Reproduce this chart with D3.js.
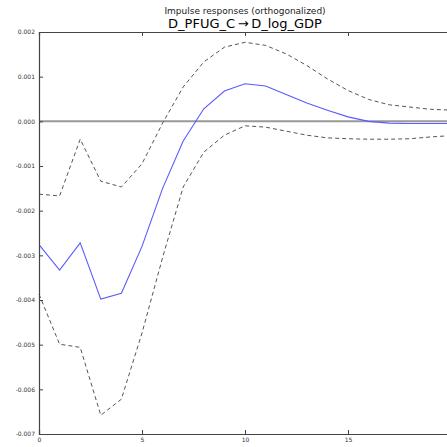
<!DOCTYPE html>
<html>
<head>
<meta charset="utf-8">
<script src="https://cdn.jsdelivr.net/npm/d3@7"></script>
<style>
  body { margin: 0; background: #fff; }
  text { font-family: "DejaVu Sans", sans-serif; }
</style>
</head>
<body>
<svg id="chart" width="447" height="447"></svg>
<script>
// impulse response periods and values
var periods = d3.range(0, 21);
var irf = [-0.00276, -0.00333, -0.00272, -0.00398, -0.00385, -0.00280, -0.00150, -0.00044,
           0.00028, 0.00068, 0.00084, 0.00079, 0.00060, 0.00041, 0.00025, 0.00010,
           0.00000, -0.00004, -0.00005, -0.00005, -0.00005];
var upper = [-0.00163, -0.00167, -0.00040, -0.00134, -0.00147, -0.00095, -0.00004, 0.00077,
             0.00133, 0.00166, 0.00177, 0.00170, 0.00151, 0.00125, 0.00095, 0.00069,
             0.00049, 0.00037, 0.00032, 0.00027, 0.00025];
var lower = [-0.00387, -0.00499, -0.00506, -0.00658, -0.00622, -0.00474, -0.00305, -0.00147,
             -0.00069, -0.00031, -0.00010, -0.00013, -0.00022, -0.00031, -0.00037, -0.00039,
             -0.00040, -0.00040, -0.00039, -0.00035, -0.00032];
var xTicks = [0, 5, 10, 15];
var yTicks = [0.002, 0.001, 0.000, -0.001, -0.002, -0.003, -0.004, -0.005, -0.006, -0.007];

var svg = d3.select('#chart');
var mLeft = 39, mTop = 32, mBottom = 434, mRight = 451;

var x = d3.scaleLinear().domain([0, 20]).range([mLeft, mRight]);
var y = d3.scaleLinear().domain([-0.007, 0.002]).range([mBottom, mTop]);

var line = function(vals) {
  return d3.line()
    .x(function(d, i) { return x(periods[i]); })
    .y(function(d) { return y(d); })(vals);
};

// zero line
svg.append('line')
    .attr('x1', mLeft).attr('x2', mRight)
    .attr('y1', y(0)).attr('y2', y(0))
    .attr('stroke', '#999').attr('stroke-width', 2);

// bands
[upper, lower].forEach(function(band) {
  svg.append('path')
      .attr('d', line(band))
      .attr('fill', 'none')
      .attr('stroke', '#555')
      .attr('stroke-width', 1)
      .attr('stroke-dasharray', '4,3');
});

svg.append('path')
    .attr('d', line(irf))
    .attr('fill', 'none')
    .attr('stroke', '#5a5aff')
    .attr('stroke-width', 1.1);

// axes, ticks inward
var fmt = d3.format('.3f');
svg.append('g')
    .attr('transform', 'translate(0,' + mBottom + ')')
    .call(d3.axisBottom(x).tickValues(xTicks).tickSize(-4).tickPadding(4).tickFormat(d3.format('d')));
svg.append('g')
    .attr('transform', 'translate(0,' + mTop + ')')
    .call(d3.axisTop(x).tickValues(xTicks).tickSize(-4).tickFormat(''));
svg.append('g')
    .attr('transform', 'translate(' + mLeft + ',0)')
    .call(d3.axisLeft(y).tickValues(yTicks).tickSize(-4).tickPadding(4)
      .tickFormat(function(d) { return fmt(d).replace('\u2212', '-'); }));

svg.selectAll('.domain').attr('stroke', '#444').attr('stroke-width', 1.2);
svg.selectAll('.tick line').attr('stroke', '#444');
svg.selectAll('.tick text').attr('font-size', 6).attr('fill', '#333');

// titles
svg.append('text')
    .attr('x', 245).attr('y', 14)
    .attr('text-anchor', 'middle')
    .attr('font-size', 9).attr('fill', '#222')
    .text('Impulse responses (orthogonalized)');
svg.append('text')
    .attr('x', 245).attr('y', 28)
    .attr('text-anchor', 'middle')
    .attr('font-size', 13).attr('fill', '#000')
    .text('D_PFUG_C\u2009\u2192\u2009D_log_GDP');
</script>
</body>
</html>
